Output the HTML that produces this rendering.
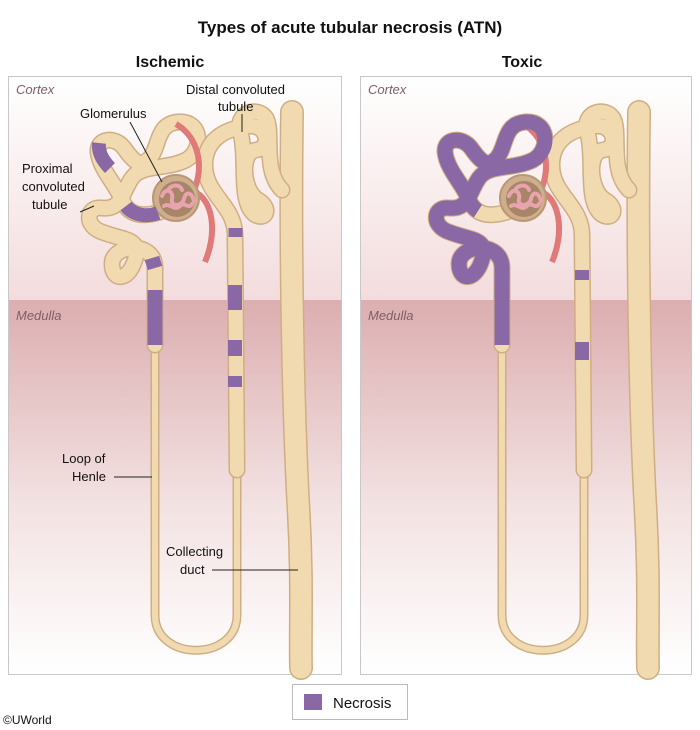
<!DOCTYPE html>
<html><head><meta charset="utf-8"><style>
html,body{margin:0;padding:0;background:#fff;}
svg{display:block;font-family:"Liberation Sans",Arial,sans-serif;}
</style></head><body>
<svg width="700" height="730" viewBox="0 0 700 730">
<defs>
<linearGradient id="cortex" x1="0" y1="0" x2="0" y2="1">
<stop offset="0" stop-color="#ffffff"/><stop offset="1" stop-color="#f3dcdd"/>
</linearGradient>
<linearGradient id="medulla" x1="0" y1="0" x2="0" y2="1">
<stop offset="0" stop-color="#dcaeb0"/><stop offset="0.55" stop-color="#f3e2e2"/><stop offset="1" stop-color="#ffffff"/>
</linearGradient>
<path id="prox" d="M160,212 C140,218 128,214 122,200 C116,184 100,170 98,152 C97,138 115,136 124,148 C134,162 140,168 150,158 C160,146 156,124 178,122 C202,120 204,150 186,160 C166,170 142,164 132,178 C122,192 122,210 102,208 C86,206 84,226 102,232 C122,240 140,238 136,256 C130,282 112,282 112,264 C112,244 155,240 155,268 L155,345"/>
<path id="loop" d="M155,345 L155,615 C155,662 237,662 237,615 L237,470"/>
<path id="dist" d="M237,470 L235,235 C235,205 205,195 205,165 C205,135 232,128 248,126 C268,124 272,148 256,150 C240,152 242,190 258,200 C272,208 266,222 254,214 C238,200 248,160 240,130 C236,112 258,106 266,118 C274,132 262,170 282,190"/>
<path id="duct" d="M292,112 C290,250 293,400 298,500 C303,580 300,630 301,668"/>
<g id="base">
<use href="#duct" stroke="#cfae83" stroke-width="24" fill="none" stroke-linecap="round"/>
<use href="#duct" stroke="#f1dab0" stroke-width="21" fill="none" stroke-linecap="round"/>
<use href="#loop" stroke="#cfae83" stroke-width="9" fill="none"/>
<use href="#loop" stroke="#f1dab0" stroke-width="6" fill="none"/>
<use href="#prox" stroke="#cfae83" stroke-width="17" fill="none" stroke-linecap="round"/>
<use href="#prox" stroke="#f1dab0" stroke-width="14" fill="none" stroke-linecap="round"/>
<use href="#dist" stroke="#cfae83" stroke-width="17" fill="none" stroke-linecap="round"/>
<use href="#dist" stroke="#f1dab0" stroke-width="14" fill="none" stroke-linecap="round"/>
<path d="M176,124 C195,135 205,160 195,188" stroke="#e07a78" stroke-width="6" fill="none"/>
<path d="M195,192 C212,200 218,230 205,262" stroke="#e07a78" stroke-width="6" fill="none"/>
<circle cx="176" cy="198" r="23" fill="#cfae8c" stroke="#b99878" stroke-width="2"/>
<circle cx="177" cy="199" r="18" fill="#a88468"/>
<path d="M162,196 c4,-10 12,-4 10,3 c-2,8 10,8 12,0 c2,-9 8,-6 10,2 M164,206 c6,-4 10,6 16,0 c5,-5 8,4 12,-2 M168,190 c4,-6 12,-6 14,0" stroke="#e8a4ad" stroke-width="4" fill="none" stroke-linecap="round"/>
</g>
</defs>

<text x="350" y="33" text-anchor="middle" font-size="17" font-weight="bold" fill="#111">Types of acute tubular necrosis (ATN)</text>
<text x="170" y="67" text-anchor="middle" font-size="16" font-weight="bold" fill="#111">Ischemic</text>
<text x="522" y="67" text-anchor="middle" font-size="16" font-weight="bold" fill="#111">Toxic</text>

<g>
<rect x="8" y="76" width="334" height="224" fill="url(#cortex)"/>
<rect x="8" y="300" width="334" height="375" fill="url(#medulla)"/>
<rect x="8.5" y="76.5" width="333" height="598" fill="none" stroke="#c8c8c8"/>
<text x="16" y="94" font-size="13" font-style="italic" fill="#7d6068">Cortex</text>
<text x="16" y="320" font-size="13" font-style="italic" fill="#7d6068">Medulla</text>
<use href="#base"/>
<g stroke="#8a68a6" stroke-width="14" fill="none">
<path d="M110,168 C102,160 98,152 99,143" stroke-linecap="butt"/>
<path d="M158,213 C145,218 132,214 126,206"/>
<path d="M155,290 L155,345" stroke-width="15"/>
<path d="M152,258 L155,268" stroke-width="15"/>
<path d="M235.5,228 L235.5,237"/>
<path d="M235,285 L235,310"/>
<path d="M235,340 L235,356"/>
<path d="M235,376 L235,387"/>
</g>
<g font-size="13" fill="#111">
<text x="186" y="94">Distal convoluted</text><text x="218" y="111">tubule</text>
<line x1="242" y1="114" x2="242" y2="132" stroke="#222"/>
<text x="80" y="118">Glomerulus</text>
<line x1="130" y1="122" x2="162" y2="182" stroke="#222"/>
<text x="22" y="173">Proximal</text><text x="22" y="191">convoluted</text><text x="32" y="209">tubule</text>
<line x1="80" y1="212" x2="94" y2="206" stroke="#222"/>
<text x="62" y="463">Loop of</text><text x="72" y="481">Henle</text>
<line x1="114" y1="477" x2="152" y2="477" stroke="#222"/>
<text x="166" y="556">Collecting</text><text x="180" y="574">duct</text>
<line x1="212" y1="570" x2="298" y2="570" stroke="#222"/>
</g>
</g>

<g>
<rect x="360" y="76" width="332" height="224" fill="url(#cortex)"/>
<rect x="360" y="300" width="332" height="375" fill="url(#medulla)"/>
<rect x="360.5" y="76.5" width="331" height="598" fill="none" stroke="#c8c8c8"/>
<text x="368" y="94" font-size="13" font-style="italic" fill="#7d6068">Cortex</text>
<text x="368" y="320" font-size="13" font-style="italic" fill="#7d6068">Medulla</text>
<g transform="translate(347,0)">
<use href="#base"/>
<use href="#prox" stroke="#8a68a6" stroke-width="15" fill="none" stroke-dasharray="0 30 2000"/>
<g stroke="#8a68a6" stroke-width="14" fill="none">
<path d="M235,270 L235,280"/>
<path d="M235,342 L235,360"/>
</g>
</g>
</g>

<g>
<rect x="292.5" y="684.5" width="115" height="35" fill="#fff" stroke="#bbb"/>
<rect x="304" y="694" width="18" height="16" fill="#8a68a6"/>
<text x="333" y="708" font-size="15" fill="#111">Necrosis</text>
</g>
<text x="3" y="724" font-size="12" fill="#111">©UWorld</text>
</svg>
</body></html>
